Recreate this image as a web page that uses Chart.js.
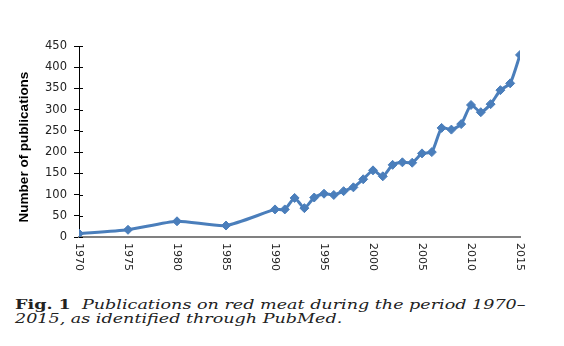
<!DOCTYPE html>
<html>
<head>
<meta charset="utf-8">
<script src="https://cdn.jsdelivr.net/npm/chart.js@4/dist/chart.umd.min.js"></script>
<style>
  html, body { margin: 0; padding: 0; background: #fff; }
  #wrap { position: relative; width: 564px; height: 346px; overflow: hidden; }
  #chart { position: absolute; left: 0; top: 0; }
  .caption {
    position: absolute; left: 15px; top: 298px; width: 400px;
    font-family: "DejaVu Serif", serif; font-size: 13px; line-height: 14px;
    color: #222; white-space: nowrap;
    transform: scaleX(1.35); transform-origin: 0 0;
  }
  .caption b { font-style: normal; }
</style>
</head>
<body>
<div id="wrap">
  <canvas id="chart" width="564" height="290"></canvas>
  <div class="caption"><b>Fig. 1</b>&nbsp; <i>Publications on red meat during the period 1970–<br>2015, as identified through PubMed.</i></div>
</div>
<script>
// publications per year
const years = [1970, 1975, 1980, 1985, 1990, 1991, 1992, 1993, 1994, 1995, 1996, 1997, 1998, 1999,
  2000, 2001, 2002, 2003, 2004, 2005, 2006, 2007, 2008, 2009, 2010, 2011, 2012, 2013, 2014, 2015];
const counts = [8, 17, 37, 27, 65, 65, 92, 68, 93, 102, 99, 108, 117, 136,
  157, 143, 170, 176, 175, 197, 200, 257, 253, 266, 311, 294, 313, 346, 362, 429];
const yearTicks = [1970, 1975, 1980, 1985, 1990, 1995, 2000, 2005, 2010, 2015];
const yTitle = 'Number of publications';

const lineColor = '#4a7ebb';

// axis extras: y ticks crossing the axis, vertical year labels, y title
const axisExtras = {
  id: 'axisExtras',
  afterDraw(chart) {
    const ctx = chart.ctx;
    const x = chart.scales.x, y = chart.scales.y;
    ctx.save();
    ctx.strokeStyle = '#000';
    ctx.lineWidth = 1;
    y.ticks.forEach(t => {
      const py = Math.round(y.getPixelForValue(t.value)) + 0.5;
      ctx.beginPath();
      ctx.moveTo(x.left, py);
      ctx.lineTo(x.left + 4, py);
      ctx.stroke();
    });

    ctx.fillStyle = '#222';
    ctx.font = '11px "DejaVu Sans"';
    ctx.textAlign = 'left';
    ctx.textBaseline = 'middle';
    yearTicks.forEach(yr => {
      const px = x.getPixelForValue(yr);
      ctx.save();
      ctx.translate(px, y.bottom + 6);
      ctx.rotate(Math.PI / 2);
      ctx.fillText(String(yr), 0, 0);
      ctx.restore();
    });

    ctx.font = 'bold 13.5px "Liberation Sans"';
    ctx.fillStyle = '#000';
    ctx.textAlign = 'center';
    ctx.translate(24, 147);
    ctx.rotate(-Math.PI / 2);
    ctx.fillText(yTitle, 0, 0);
    ctx.restore();
  }
};

new Chart(document.getElementById('chart'), {
  type: 'line',
  data: {
    datasets: [{
      data: years.map((yr, i) => ({ x: yr, y: counts[i] })),
      borderColor: lineColor,
      backgroundColor: lineColor,
      borderWidth: 3,
      tension: 0.2,
      pointStyle: 'rectRot',
      pointRadius: 4.5,
      pointBorderWidth: 1
    }]
  },
  options: {
    responsive: false,
    animation: false,
    layout: { padding: { left: 0, top: 46, right: 44, bottom: 0 } },
    plugins: { legend: { display: false }, tooltip: { enabled: false } },
    scales: {
      x: {
        type: 'linear',
        min: 1970,
        max: 2015,
        grid: { display: false },
        border: { display: true, color: '#808080', width: 2 },
        ticks: { display: false },
        afterFit(scale) { scale.height = 53; }
      },
      y: {
        min: 0,
        max: 450,
        grid: { display: true, drawOnChartArea: false, drawTicks: true, tickLength: 5, color: '#000' },
        border: { display: true, color: '#000', width: 1 },
        ticks: {
          stepSize: 50,
          padding: 7,
          color: '#222',
          font: { family: 'DejaVu Sans', size: 11.5 }
        },
        afterFit(scale) { scale.width = 79; }
      }
    }
  },
  plugins: [axisExtras]
});
</script>
</body>
</html>
